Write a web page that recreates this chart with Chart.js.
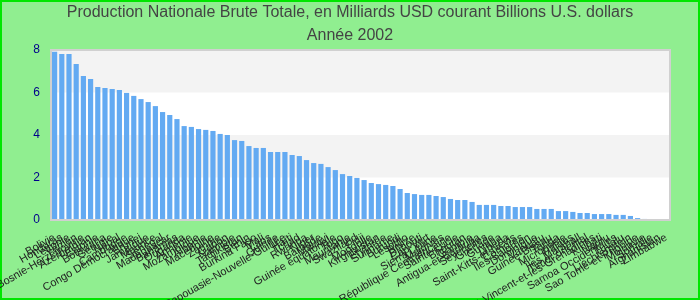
<!DOCTYPE html>
<html lang="fr">
<head>
<meta charset="UTF-8">
<title>Production Nationale Brute Totale</title>
<script src="https://cdn.jsdelivr.net/npm/chart.js@4/dist/chart.umd.min.js"></script>
<style>
  body { margin: 0; background: #90ee90; }
  #chart { display: block; }
</style>
</head>
<body>
<canvas id="chart" width="700" height="300"></canvas>
<script>
// pays, triés par valeur décroissante
const pays = [
  'Bolivie', 'Honduras', 'Lettonie', 'Yémen', 'Bosnie-Herzégovine', 'Azerbaïdjan', 'Estonie', 'Botswana',
  'Géorgie', 'Népal', 'Cambodge', 'Congo Démocratique', 'Brunei', 'Jamaïque', 'Maurice', 'Sénégal',
  'Madagascar', 'Bahamas', 'Ouganda', 'Arménie', 'Mozambique', 'Albanie', 'Macédoine', 'Zambie',
  'Gabon', 'Namibie', 'Tadjikistan', 'Bénin', 'Burkina Faso', 'Mali', 'Laos', 'Guinée',
  'Papouasie-Nouvelle-Guinée', 'Haïti', 'Tchad', 'Rwanda', 'Niger', 'Barbade', 'Malawi', 'Guinée équatoriale',
  'Togo', 'Mauritanie', 'Swaziland', 'Fidji', 'Mongolie', 'Kirghizistan', 'Érythrée', 'Suriname',
  'Burundi', 'Lesotho', 'Belize', 'Djibouti', 'Cap-Vert', 'Sierra Leone', 'Maldives', 'République Centrafricaine',
  'Sainte-Lucie', 'Bhoutan', 'Gambie', 'Antigua-et-Barbuda', 'Seychelles', 'Grenade', 'Guyana', 'Libéria',
  'Saint-Kitts-et-Nevis', 'Comores', 'Îles Salomon', 'Dominique', 'Vanuatu', 'Guinée-Bissau', 'Tonga', 'Micronésie',
  'Palaos', 'Îles Marshall', 'Timor oriental', 'Saint-Vincent-et-les-Grenadines', 'Kiribati', 'Nauru', 'Samoa Occidentales', 'Tuvalu',
  'Liechtenstein', 'Sao Tome-et-Principe', 'Moldavie', 'Somalie', 'Afghanistan', 'Zimbabwe'
];

// PNB 2002, milliards USD courants
const pnb = [
  7.92, 7.81, 7.81, 7.34, 6.78, 6.64, 6.26, 6.21, 6.16, 6.12,
  5.98, 5.84, 5.69, 5.55, 5.36, 5.08, 4.94, 4.75, 4.42, 4.38,
  4.28, 4.24, 4.19, 4.05, 4.00, 3.76, 3.72, 3.48, 3.39, 3.39,
  3.20, 3.20, 3.20, 3.06, 3.01, 2.82, 2.68, 2.64, 2.49, 2.35,
  2.16, 2.07, 1.98, 1.88, 1.74, 1.69, 1.65, 1.60, 1.46, 1.27,
  1.22, 1.18, 1.18, 1.13, 1.08, 0.99, 0.94, 0.94, 0.85, 0.71,
  0.71, 0.71, 0.66, 0.66, 0.61, 0.61, 0.61, 0.52, 0.52, 0.52,
  0.42, 0.42, 0.38, 0.33, 0.33, 0.28, 0.28, 0.28, 0.24, 0.24,
  0.19, 0.09, 0.05, 0, 0, 0
];

const titre = [
  'Production Nationale Brute Totale, en Milliards USD courant Billions U.S. dollars',
  'Année 2002'
];

const police = 'Arial, "Liberation Sans", sans-serif';

// fond vert, bandes alternées et cadre de la zone de tracé
const fondPlugin = {
  id: 'fond',
  beforeDraw(chart) {
    const { ctx, chartArea: a, scales: { y } } = chart;
    ctx.save();
    ctx.fillStyle = '#90ee90';
    ctx.fillRect(0, 0, chart.width, chart.height);
    ctx.strokeStyle = '#00e600';
    ctx.lineWidth = 2;
    ctx.strokeRect(1, 1, chart.width - 2, chart.height - 2);
    ctx.fillStyle = '#ffffff';
    ctx.fillRect(a.left, a.top, a.right - a.left, a.bottom - a.top);
    ctx.fillStyle = '#f3f3f3';
    [[2, 4], [6, 8]].forEach(([lo, hi]) => {
      const t = y.getPixelForValue(hi), b = y.getPixelForValue(lo);
      ctx.fillRect(a.left, t, a.right - a.left, b - t);
    });
    ctx.restore();
  },
  afterDatasetsDraw(chart) {
    const { ctx, chartArea: a } = chart;
    ctx.save();
    ctx.strokeStyle = '#d0d0d0';
    ctx.lineWidth = 2;
    ctx.strokeRect(a.left, a.top, a.right - a.left, a.bottom - a.top);
    ctx.restore();
  }
};

new Chart(document.getElementById('chart'), {
  type: 'bar',
  data: {
    labels: pays,
    datasets: [{
      data: pnb,
      backgroundColor: '#63aaf2',
      borderWidth: 0
    }]
  },
  options: {
    responsive: false,
    devicePixelRatio: 1,
    animation: false,
    layout: { padding: 0 },
    plugins: {
      legend: { display: false },
      tooltip: { enabled: false },
      title: {
        display: true,
        text: titre,
        color: '#444444',
        font: { family: police, size: 16, weight: 'normal', lineHeight: 1.4 },
        padding: { top: 1.5, bottom: 3.7 }
      }
    },
    scales: {
      x: {
        grid: { display: false },
        border: { display: false },
        ticks: {
          autoSkip: false,
          minRotation: 30,
          maxRotation: 30,
          color: '#222222',
          font: { family: police, size: 11 }
        },
        afterFit(s) { s.height = 80; }
      },
      y: {
        min: 0,
        max: 8,
        grid: { display: false },
        border: { display: false },
        ticks: {
          stepSize: 2,
          color: '#00008b',
          font: { family: police, size: 12 }
        },
        afterFit(s) { s.width = 51; }
      },
      // marge droite vide
      marge: {
        display: true,
        position: 'right',
        grid: { display: false },
        border: { display: false },
        ticks: { display: false },
        afterFit(s) { s.width = 30; }
      }
    }
  },
  plugins: [fondPlugin]
});
</script>
</body>
</html>
